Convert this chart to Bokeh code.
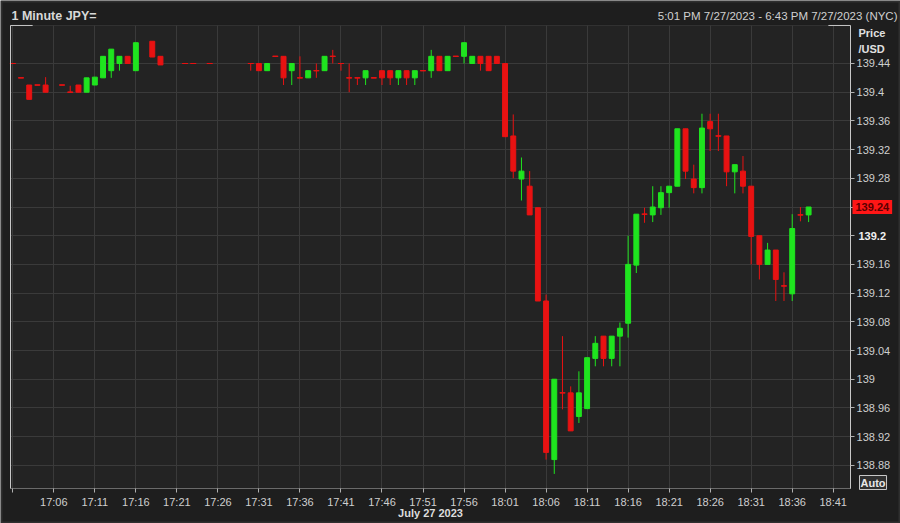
from bokeh.plotting import figure
from bokeh.models import FixedTicker, NumeralTickFormatter, Label, ColumnDataSource, BoxAnnotation
from bokeh.embed import file_html
from bokeh.resources import INLINE

# ---- data (1-minute candles, 27 July 2023) ----
times = ["17:01", "17:02", "17:03", "17:04", "17:05", "17:07", "17:08", "17:09", "17:10",
         "17:11", "17:12", "17:13", "17:14", "17:15", "17:16", "17:18", "17:19", "17:22",
         "17:23", "17:25", "17:30", "17:31", "17:32", "17:33", "17:34", "17:35", "17:36",
         "17:37", "17:38", "17:39", "17:40", "17:41", "17:42", "17:43", "17:44", "17:45",
         "17:46", "17:47", "17:48", "17:49", "17:50", "17:51", "17:52", "17:53", "17:54",
         "17:55", "17:56", "17:57", "17:58", "17:59", "18:00", "18:01", "18:02", "18:03",
         "18:04", "18:05", "18:06", "18:07", "18:08", "18:09", "18:10", "18:11", "18:12",
         "18:13", "18:14", "18:15", "18:16", "18:17", "18:18", "18:19", "18:20", "18:21",
         "18:22", "18:23", "18:24", "18:25", "18:26", "18:27", "18:28", "18:29", "18:30",
         "18:31", "18:32", "18:33", "18:34", "18:35", "18:36", "18:37", "18:38"]
opens = [139.440, 139.420, 139.410, 139.410, 139.410, 139.410, 139.400, 139.410, 139.400,
         139.410, 139.420, 139.430, 139.440, 139.450, 139.430, 139.471, 139.450, 139.440,
         139.440, 139.440, 139.440, 139.440, 139.430, 139.450, 139.450, 139.430, 139.420,
         139.420, 139.430, 139.430, 139.450, 139.440, 139.420, 139.420, 139.420, 139.420,
         139.430, 139.430, 139.420, 139.430, 139.420, 139.430, 139.430, 139.450, 139.430,
         139.450, 139.450, 139.440, 139.450, 139.450, 139.450, 139.440, 139.339, 139.279,
         139.269, 139.239, 139.109, 138.888, 138.981, 138.981, 138.948, 138.959, 139.029,
         139.060, 139.029, 139.060, 139.078, 139.159, 139.230, 139.229, 139.239, 139.260,
         139.269, 139.349, 139.279, 139.267, 139.359, 139.339, 139.339, 139.289, 139.290,
         139.269, 139.200, 139.160, 139.180, 139.130, 139.119, 139.229, 139.229]
highs = [139.440, 139.420, 139.410, 139.410, 139.421, 139.410, 139.409, 139.410, 139.420,
         139.421, 139.450, 139.460, 139.450, 139.450, 139.469, 139.471, 139.450, 139.440,
         139.440, 139.440, 139.440, 139.440, 139.440, 139.450, 139.450, 139.440, 139.450,
         139.430, 139.440, 139.450, 139.459, 139.440, 139.440, 139.420, 139.430, 139.420,
         139.430, 139.430, 139.430, 139.430, 139.430, 139.430, 139.459, 139.450, 139.450,
         139.450, 139.469, 139.450, 139.450, 139.450, 139.450, 139.440, 139.369, 139.309,
         139.290, 139.239, 139.118, 139.000, 139.060, 138.990, 139.011, 139.030, 139.060,
         139.060, 139.060, 139.079, 139.200, 139.230, 139.239, 139.269, 139.269, 139.269,
         139.349, 139.349, 139.299, 139.370, 139.370, 139.370, 139.339, 139.299, 139.311,
         139.269, 139.200, 139.190, 139.180, 139.149, 139.230, 139.240, 139.240]
lows = [139.440, 139.420, 139.390, 139.410, 139.400, 139.410, 139.400, 139.400, 139.400,
        139.410, 139.420, 139.420, 139.430, 139.440, 139.430, 139.449, 139.438, 139.440,
        139.440, 139.440, 139.430, 139.430, 139.430, 139.450, 139.410, 139.410, 139.420,
        139.420, 139.420, 139.430, 139.440, 139.430, 139.400, 139.410, 139.410, 139.420,
        139.410, 139.410, 139.410, 139.410, 139.410, 139.430, 139.420, 139.430, 139.430,
        139.450, 139.440, 139.440, 139.430, 139.430, 139.440, 139.338, 139.280, 139.249,
        139.229, 139.109, 138.888, 138.868, 138.958, 138.928, 138.939, 138.959, 139.018,
        139.018, 139.018, 139.018, 139.058, 139.148, 139.218, 139.219, 139.229, 139.239,
        139.269, 139.279, 139.259, 139.259, 139.318, 139.318, 139.269, 139.259, 139.259,
        139.160, 139.139, 139.160, 139.109, 139.109, 139.109, 139.220, 139.219]
closes = [139.440, 139.420, 139.390, 139.410, 139.400, 139.410, 139.400, 139.400, 139.420,
          139.421, 139.450, 139.460, 139.450, 139.440, 139.469, 139.449, 139.438, 139.440,
          139.440, 139.440, 139.440, 139.430, 139.440, 139.450, 139.420, 139.440, 139.420,
          139.430, 139.430, 139.450, 139.450, 139.440, 139.420, 139.420, 139.430, 139.420,
          139.420, 139.420, 139.430, 139.420, 139.430, 139.430, 139.450, 139.430, 139.450,
          139.450, 139.469, 139.450, 139.440, 139.430, 139.440, 139.338, 139.290, 139.290,
          139.229, 139.109, 138.898, 139.000, 138.981, 138.928, 138.981, 139.030, 139.050,
          139.029, 139.060, 139.071, 139.160, 139.230, 139.230, 139.240, 139.260, 139.269,
          139.349, 139.290, 139.267, 139.350, 139.349, 139.339, 139.289, 139.299, 139.269,
          139.199, 139.160, 139.180, 139.139, 139.130, 139.210, 139.229, 139.240]

x_tick_labels = ["17:01", "17:06", "17:11", "17:16", "17:21", "17:26", "17:31", "17:36",
                 "17:41", "17:46", "17:51", "17:56", "18:01", "18:06", "18:11", "18:16",
                 "18:21", "18:26", "18:31", "18:36", "18:41"]
price_ticks = [138.88, 138.92, 138.96, 139.0, 139.04, 139.08, 139.12, 139.16, 139.2,
               139.24, 139.28, 139.32, 139.36, 139.4, 139.44]
bold_tick = 139.2
last_price = 139.24
title_text = "1 Minute JPY="
period_text = "5:01 PM 7/27/2023 - 6:43 PM 7/27/2023 (NYC)"
date_text = "July 27 2023"

# ---- layout constants (the frame covers the whole canvas) ----
W, H = 900, 523
XR = (-0.499, 109.2)            # minutes after 17:00 across the canvas
YR = (138.7989, 139.5278)       # price across the canvas
PX0, PX1 = 0.72, 103.11         # plot region, minutes
PY0, PY1 = 138.8477, 139.4930   # plot region, price
BRACKET = 2.7                   # corner bracket length, minutes

GREEN = "#1fe41f"
RED = "#e81212"
FONT = "Liberation Sans"


def to_min(s):
    h, m = s.split(":")
    return (int(h) - 17) * 60 + int(m)


t = [to_min(s) for s in times]
cols = [GREEN if c > o else RED for o, c in zip(opens, closes)]
src = ColumnDataSource(dict(
    t=t, o=opens, h=highs, l=lows, c=closes, color=cols,
    top=[max(o, c) for o, c in zip(opens, closes)],
    bot=[min(o, c) for o, c in zip(opens, closes)],
))
doji_idx = [i for i, (o, c) in enumerate(zip(opens, closes)) if o == c]
doji = ColumnDataSource(dict(
    x0=[t[i] - 0.36 for i in doji_idx], x1=[t[i] + 0.36 for i in doji_idx],
    y=[opens[i] for i in doji_idx],
))

p = figure(width=W, height=H, output_backend="svg", toolbar_location=None,
           x_range=XR, y_range=YR, x_axis_location="below", y_axis_location="right",
           background_fill_color="#1e1e1e", border_fill_color="#1e1e1e",
           min_border_left=0, min_border_top=0, min_border_right=0, min_border_bottom=0)
p.outline_line_color = None

# window border
p.add_layout(BoxAnnotation(left=1, right=W - 1, bottom=1, top=H - 1, left_units="screen",
                           right_units="screen", top_units="screen", bottom_units="screen",
                           fill_color=None, line_color="#5a5a5a", line_width=2, level="image"))
# plot panel background + frame
p.add_layout(BoxAnnotation(left=PX0, right=PX1, bottom=PY0, top=PY1, fill_color="#232323",
                           fill_alpha=1, line_color="#5e5e5e", line_width=1, level="image"))

xt = [to_min(s) for s in x_tick_labels]
xa = p.xaxis[0]
ya = p.yaxis[0]
xa.fixed_location = PY0
xa.bounds = (PX0, PX1)
ya.fixed_location = PX1
ya.bounds = (PY0, PY1)
xa.ticker = FixedTicker(ticks=xt)
xa.major_label_overrides = {v: ("" if i == 0 else s) for i, (v, s) in enumerate(zip(xt, x_tick_labels))}
ya.ticker = FixedTicker(ticks=price_ticks)
ya.formatter = NumeralTickFormatter(format="0.[00]")
ya.major_label_overrides = {bold_tick: ""}

for ax in (xa, ya):
    ax.major_tick_out = 4
    ax.major_tick_in = 0
    ax.minor_tick_line_color = None
    ax.major_tick_line_color = "#b0b0b0"
    ax.major_label_text_color = "#cfcfcf"
    ax.major_label_text_font = FONT
    ax.major_label_text_font_size = "11px"
    ax.major_label_standoff = 2
xa.major_label_standoff = 4
xa.axis_line_color = "#6a6a6a"
ya.axis_line_color = "#c8c8c8"
xa.axis_label = date_text
xa.axis_label_text_font = FONT
xa.axis_label_text_font_size = "11px"
xa.axis_label_text_font_style = "bold"
xa.axis_label_text_color = "#dcdcdc"
xa.axis_label_standoff = -5

# grid limited to the plot panel
p.xgrid.ticker = FixedTicker(ticks=xt)
p.ygrid.ticker = FixedTicker(ticks=price_ticks)
p.grid.grid_line_color = "#3a3a3a"
try:
    p.xgrid.cross_bounds = (PY0, PY1)
    p.ygrid.cross_bounds = (PX0, PX1)
except AttributeError:
    p.grid.visible = False
    p.segment(x0=[v for v in xt if PX0 < v < PX1], x1=[v for v in xt if PX0 < v < PX1],
              y0=PY0, y1=PY1, line_color="#3a3a3a", line_width=1, level="underlay")
    p.segment(y0=price_ticks, y1=price_ticks, x0=PX0, x1=PX1,
              line_color="#3a3a3a", line_width=1, level="underlay")

# light left edge and corner brackets of the panel
p.segment(x0=[PX0, PX0, PX0, PX1 - BRACKET, PX1 - BRACKET],
          x1=[PX0, PX0 + BRACKET, PX0 + BRACKET, PX1, PX1],
          y0=[PY0, PY1, PY0, PY1, PY0], y1=[PY1, PY1, PY0, PY1, PY0],
          line_color="#c8c8c8", line_width=1, level="guide")

# candles
p.segment(x0="t", y0="l", x1="t", y1="h", color="color", line_width=1, source=src)
p.vbar(x="t", width=0.6, top="top", bottom="bot", fill_color="color", line_color="color",
       line_width=1, source=src)
p.segment(x0="x0", y0="y", x1="x1", y1="y", color=RED, line_width=1, source=doji)

# texts (screen units: frame == canvas, y measured from the bottom)
p.add_layout(Label(x=11, y=H - 15, x_units="screen", y_units="screen", text=title_text,
                   text_font=FONT, text_font_size="12.5px", text_font_style="bold",
                   text_color="#d8d8d8", text_baseline="middle"))
p.add_layout(Label(x=897, y=H - 15, x_units="screen", y_units="screen", text=period_text,
                   text_font=FONT, text_font_size="11.5px", text_color="#d0d0d0",
                   text_align="right", text_baseline="middle"))
p.add_layout(Label(x=858, y=H - 32, x_units="screen", y_units="screen", text="Price",
                   text_font=FONT, text_font_size="11px", text_font_style="bold",
                   text_color="#e0e0e0", text_baseline="middle"))
p.add_layout(Label(x=858, y=H - 48, x_units="screen", y_units="screen", text="/USD",
                   text_font=FONT, text_font_size="11px", text_font_style="bold",
                   text_color="#e0e0e0", text_baseline="middle"))
p.add_layout(Label(x=858, y=bold_tick, x_units="screen", y_units="data",
                   text=f"{bold_tick:g}", text_font=FONT, text_font_size="11px",
                   text_font_style="bold", text_color="#f0f0f0", text_baseline="middle"))
p.add_layout(Label(x=859, y=H - 482, x_units="screen", y_units="screen", text="Auto",
                   text_font=FONT, text_font_size="11px", text_font_style="bold",
                   text_color="#e8e8e8", text_baseline="middle", padding=1,
                   border_line_color="#c8c8c8", background_fill_color="#303030"))
p.add_layout(Label(x=852, y=last_price, x_units="screen", y_units="data",
                   text=f"{last_price:.2f}", text_font=FONT, text_font_size="11px",
                   text_font_style="bold", text_color="#5a0000", text_baseline="middle",
                   padding=3, background_fill_color="#ff1616"))

open("out.html", "w").write(file_html(p, INLINE))
